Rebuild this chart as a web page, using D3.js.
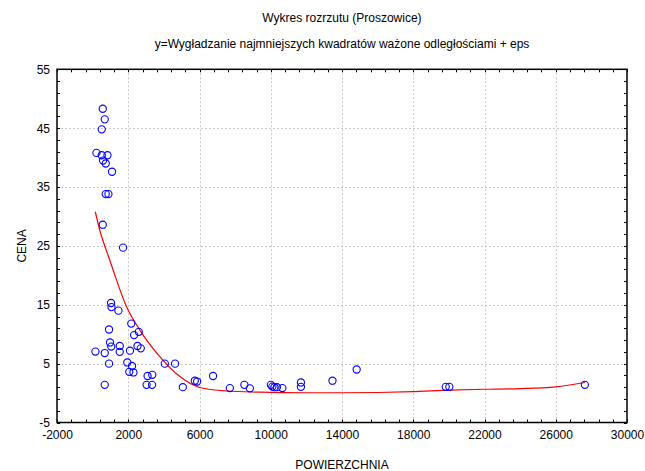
<!DOCTYPE html>
<html>
<head>
<meta charset="utf-8">
<script src="https://cdn.jsdelivr.net/npm/d3@7"></script>
<style>
  html, body { margin: 0; padding: 0; background: #fff; }
  svg text { font-family: "Liberation Sans", Arial, sans-serif; fill: #000; }
</style>
</head>
<body>
<svg id="chart" width="645" height="471"></svg>
<script>
// Scatter: property area (POWIERZCHNIA) vs price (CENA), Proszowice
const powierzchnia = [568, 680, 512, 214, 512, 832, 585, 736, 1090, 736, 888, 568, 1709,
  1034, 1057, 1450, 2169, 922, 2327, 2591, 978, 1045, 1523, 1523, 158, 680, 2096, 2518, 2703,
  922, 1945, 2214, 2057, 2293, 3085, 3349, 3029, 3338, 680, 4052, 4630, 5063, 5737, 5867,
  6760, 7704, 8519, 8828, 10008, 10092, 10204, 10345, 10654, 11694, 11694, 13464, 14823,
  19824, 20026, 27635];
const cena = [48.3, 46.5, 44.8, 40.8, 40.4, 40.4, 39.5, 39.0, 37.6, 33.8, 33.8, 28.6, 24.7,
  15.3, 14.6, 14.0, 11.8, 10.8, 9.85, 10.4, 8.6, 7.9, 8.0, 7.0, 7.05, 6.8, 7.2, 8.0, 7.6,
  5.0, 5.2, 4.6, 3.6, 3.5, 2.9, 3.1, 1.4, 1.4, 1.4, 5.0, 5.0, 1.0, 2.1, 1.96,
  2.9, 0.85, 1.4, 0.8, 1.4, 1.1, 1.0, 1.0, 0.85, 1.8, 1.06, 2.1, 4.0,
  1.06, 1.06, 1.4];

// Distance-weighted least squares fit
const fitX = [150, 400, 960, 1150, 1900, 2650, 3770, 4900, 6000, 7500, 9400, 12000, 14000,
  16000, 18000, 20000, 22000, 24000, 26000, 27635];
const fitY = [30.8, 27.7, 22.6, 20.9, 14.7, 10.7, 6.2, 2.8, 0.95, 0.35, 0.15, 0.05, 0.05,
  0.1, 0.25, 0.5, 0.65, 0.75, 1.05, 1.8];

const xTicks = [-2000, 2000, 6000, 10000, 14000, 18000, 22000, 26000, 30000];
const yTicks = [-5, 5, 15, 25, 35, 45, 55];

const title = "Wykres rozrzutu (Proszowice)";
const subtitle = "y=Wygładzanie najmniejszych kwadratów ważone odległościami + eps";

const svg = d3.select("#chart");
const L = 57, R = 627, T = 69.3, B = 422.5;

const x = d3.scaleLinear().domain([-2000, 30000]).range([L, R]);
const y = d3.scaleLinear().domain([-5, 55]).range([B, T]);

// titles
svg.append("text").attr("x", (L + R) / 2).attr("y", 22).attr("text-anchor", "middle")
  .attr("font-size", 12).text(title);
svg.append("text").attr("x", (L + R) / 2).attr("y", 48).attr("text-anchor", "middle")
  .attr("font-size", 12).text(subtitle);

// dotted grid at major ticks
const grid = svg.append("g").attr("stroke", "#c8c8c8").attr("stroke-width", 1)
  .attr("stroke-dasharray", "2,2");
xTicks.slice(1, -1).forEach(t => grid.append("line")
  .attr("x1", Math.round(x(t)) + 0.5).attr("x2", Math.round(x(t)) + 0.5)
  .attr("y1", T).attr("y2", B));
yTicks.slice(1, -1).forEach(t => grid.append("line")
  .attr("x1", L).attr("x2", R)
  .attr("y1", Math.round(y(t)) + 0.5).attr("y2", Math.round(y(t)) + 0.5));

// inward ticks on all four sides (5 subdivisions per major step)
const xMinor = d3.range(-2000, 30001, 800);
const yMinor = d3.range(-5, 55.01, 2);
const tk = svg.append("g").attr("stroke", "#000").attr("stroke-width", 1);
xMinor.forEach(t => {
  const px = Math.round(x(t)) + 0.5;
  tk.append("line").attr("x1", px).attr("x2", px).attr("y1", B).attr("y2", B - 3);
  tk.append("line").attr("x1", px).attr("x2", px).attr("y1", T).attr("y2", T + 3);
});
yMinor.forEach(t => {
  const py = Math.round(y(t)) + 0.5;
  tk.append("line").attr("x1", L).attr("x2", L + 3).attr("y1", py).attr("y2", py);
  tk.append("line").attr("x1", R).attr("x2", R - 3).attr("y1", py).attr("y2", py);
});

// frame
svg.append("rect").attr("x", L).attr("y", T).attr("width", R - L).attr("height", B - T)
  .attr("fill", "none").attr("stroke", "#000").attr("stroke-width", 1.5);

// axis tick labels (plain integers, ASCII hyphen for negatives)
const plain = d => String(d);
const xAxis = d3.axisBottom(x).tickValues(xTicks).tickFormat(plain).tickSize(0).tickPadding(8);
svg.append("g").attr("transform", `translate(0,${B})`).call(xAxis)
  .call(g => g.select(".domain").remove())
  .selectAll("text").attr("font-size", 12).attr("font-family", "Liberation Sans, Arial, sans-serif");
const yAxis = d3.axisLeft(y).tickValues(yTicks).tickFormat(plain).tickSize(0).tickPadding(7);
svg.append("g").attr("transform", `translate(${L},0)`).call(yAxis)
  .call(g => g.select(".domain").remove())
  .selectAll("text").attr("font-size", 12).attr("font-family", "Liberation Sans, Arial, sans-serif");

// axis titles
svg.append("text").attr("x", (L + R) / 2).attr("y", 469).attr("text-anchor", "middle")
  .attr("font-size", 12).text("POWIERZCHNIA");
svg.append("text").attr("transform", `translate(26,${(T + B) / 2}) rotate(-90)`)
  .attr("text-anchor", "middle").attr("font-size", 12).text("CENA");

// fitted curve
const fit = fitX.map((v, i) => [v, fitY[i]]);
svg.append("path").datum(fit)
  .attr("fill", "none").attr("stroke", "#ff0000").attr("stroke-width", 1.2)
  .attr("d", d3.line().x(d => x(d[0])).y(d => y(d[1])).curve(d3.curveMonotoneX));

// points
const pts = powierzchnia.map((v, i) => [v, cena[i]]);
svg.append("g").selectAll("circle").data(pts).join("circle")
  .attr("cx", d => x(d[0])).attr("cy", d => y(d[1])).attr("r", 3.6)
  .attr("fill", "none").attr("stroke", "#0000ff").attr("stroke-width", 1.1);
</script>
</body>
</html>
